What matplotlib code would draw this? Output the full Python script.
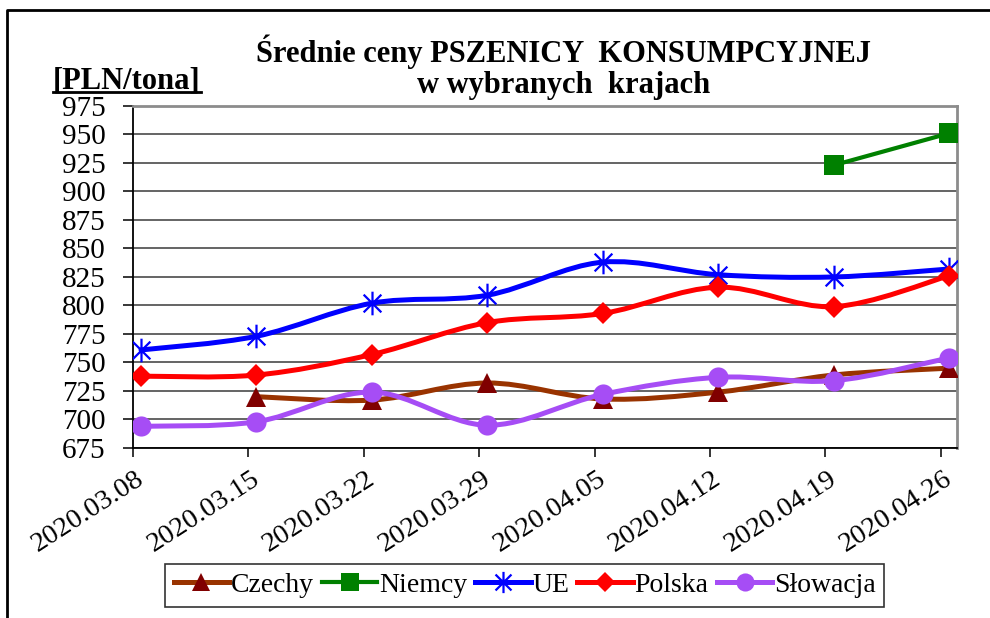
import numpy as np
import matplotlib
matplotlib.use('Agg')
import matplotlib.pyplot as plt
from matplotlib.path import Path
from matplotlib.patches import PathPatch
from matplotlib.lines import Line2D
from matplotlib.transforms import ScaledTranslation

plt.rcParams['font.family'] = ['Liberation Serif', 'DejaVu Serif']

# dane
dates = ['2020.03.08', '2020.03.15', '2020.03.22', '2020.03.29',
         '2020.04.05', '2020.04.12', '2020.04.19', '2020.04.26']
czechy = [np.nan, 720, 717, 732, 718, 724, 739, 745]
niemcy = [np.nan, np.nan, np.nan, np.nan, np.nan, np.nan, 923, 951]
ue = [761, 773, 802, 809, 838, 827, 825, 832]
polska = [738, 739, 757, 785, 793, 816, 799, 826]
slowacja = [694, 698, 724, 695, 722, 737, 734, 754]

# gwiazdka jak w Excelu: X + kreska pionowa
star = Path([(0, -1), (0, 1), (-0.75, -0.75), (0.75, 0.75),
             (-0.75, 0.75), (0.75, -0.75)],
            [Path.MOVETO, Path.LINETO] * 3)

series = [
    ('Czechy', czechy, '#993300', '#800000', '^', 14, True),
    ('Niemcy', niemcy, '#008000', '#008000', 's', 15, False),
    ('UE', ue, '#0000FF', '#0000FF', star, 17, True),
    ('Polska', polska, '#FF0000', '#FF0000', 'D', 11, True),
    ('Słowacja', slowacja, '#A64DF5', '#A64DF5', 'o', 14.5, True),
]


def smooth_path(xs, ys):
    # krzywa jak "wygładzona linia" w Excelu (Bezier)
    pts = np.column_stack([xs, ys])
    n = len(pts)
    verts = [pts[0]]
    codes = [Path.MOVETO]
    for i in range(n - 1):
        p0 = pts[i - 1] if i > 0 else pts[i]
        p1 = pts[i]
        p2 = pts[i + 1]
        p3 = pts[i + 2] if i + 2 < n else pts[i + 1]
        verts += [p1 + (p2 - p0) / 6, p2 - (p3 - p1) / 6, p2]
        codes += [Path.CURVE4] * 3
    return Path(verts, codes)


fig = plt.figure(figsize=(9.9, 6.18), dpi=100)
ax = fig.add_axes([0.1343, 0.2751, 0.8324, 0.5534])

xpos = np.arange(len(dates)) + 0.07
handles = []
for name, vals, lc, mc, mk, ms, smooth in series:
    v = np.array(vals, dtype=float)
    ok = ~np.isnan(v)
    lw = 3.6 if smooth else 3.0
    path = smooth_path(xpos[ok], v[ok])
    ax.add_patch(PathPatch(path, facecolor='none', edgecolor=lc, lw=lw,
                           capstyle='round', joinstyle='round', zorder=3))
    mew = 1.6 if mk is star else 0
    ax.plot(xpos[ok], v[ok], ls='none', marker=mk, ms=ms, color=mc,
            mec=mc, mew=mew, zorder=4)
    handles.append(Line2D([], [], color=lc, lw=lw, marker=mk, ms=ms * 0.9,
                          mfc=mc, mec=mc, mew=mew, label=name))

ax.set_xlim(0, 7.14)
ax.set_ylim(675, 975)
ax.set_yticks(np.arange(675, 976, 25))
ax.set_xticks(np.arange(len(dates)))
ax.set_xticklabels(dates)
ax.grid(axis='y', color='#3a3a3a', lw=1.1)
ax.set_axisbelow(True)

for s in ['top', 'right']:
    ax.spines[s].set_color('#8c8c8c')
    ax.spines[s].set_linewidth(2)
for s in ['left', 'bottom']:
    ax.spines[s].set_color('black')
    ax.spines[s].set_linewidth(1.3)

ax.tick_params(axis='y', direction='out', length=7.5, width=1.1,
               labelsize=21, pad=12)
ax.tick_params(axis='x', direction='out', length=6.5, width=1.1,
               labelsize=20.5, pad=14)
for lab in ax.get_xticklabels():
    lab.set_rotation(33)
    lab.set_rotation_mode('anchor')
    lab.set_ha('right')
    lab.set_va('center')
    lab.set_transform(lab.get_transform() +
                      ScaledTranslation(0.09, 0, fig.dpi_scale_trans))

# tytuł
fig.text(0.569, 0.8997, 'Średnie ceny PSZENICY  KONSUMPCYJNEJ',
         ha='center', va='baseline', fontsize=22, fontweight='bold')
fig.text(0.569, 0.8495, 'w wybranych  krajach',
         ha='center', va='baseline', fontsize=22, fontweight='bold')

unit = fig.text(0.0535, 0.8576, '[PLN/tona]', ha='left', va='baseline',
                fontsize=22, fontweight='bold')
fig.canvas.draw()
bb = unit.get_window_extent().transformed(fig.transFigure.inverted())
fig.add_artist(Line2D([bb.x0, bb.x1], [0.8576 - 0.0065] * 2,
                      transform=fig.transFigure, color='black', lw=2))

# ramka
fig.add_artist(Line2D([0.007, 0.007, 1.0], [0.0, 0.984, 0.984],
                      transform=fig.transFigure, color='black', lw=2))

leg = fig.legend(handles=handles, loc='center', ncol=5,
                 bbox_to_anchor=(0.5298, 0.0526), fontsize=20,
                 frameon=True, fancybox=False, edgecolor='black',
                 handlelength=2.0, handletextpad=0.05, columnspacing=0.3,
                 borderpad=0.3, borderaxespad=0)
leg.get_frame().set_linewidth(1.2)

fig.savefig('out.png', dpi=100)
